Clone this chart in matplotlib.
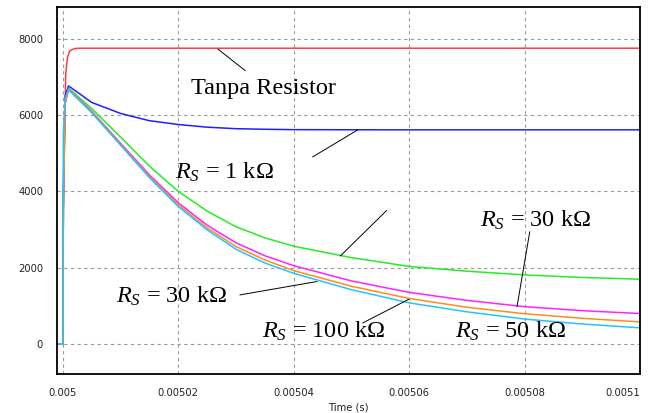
import matplotlib
matplotlib.use("Agg")
import matplotlib.pyplot as plt
import numpy as np

plt.rcParams['mathtext.fontset'] = 'custom'
plt.rcParams['mathtext.rm'] = 'Liberation Serif'
plt.rcParams['mathtext.it'] = 'Liberation Serif:italic'

# ---- data (time offsets in microseconds from 0.005 s) ----
t_us = [-1, 0, 0.1, 0.4, 1, 5, 10, 15, 20, 25, 30, 35, 40, 50, 60, 70, 80, 90, 100]
blue_vals = [0, 0, 4000, 6500, 6760, 6330, 6040, 5850, 5750, 5680, 5640, 5625, 5615, 5612, 5610, 5610, 5610, 5610, 5610]
green_vals = [0, 0, 3500, 6300, 6700, 6170, 5420, 4660, 4000, 3480, 3070, 2780, 2560, 2260, 2030, 1905, 1808, 1740, 1695]
magenta_vals = [0, 0, 3500, 6300, 6680, 6100, 5260, 4430, 3700, 3110, 2650, 2310, 2050, 1650, 1350, 1140, 975, 870, 795]
orange_vals = [0, 0, 3500, 6300, 6670, 6080, 5230, 4390, 3650, 3040, 2550, 2200, 1920, 1510, 1190, 960, 790, 670, 575]
cyan_vals = [0, 0, 5500, 6450, 6660, 6060, 5210, 4360, 3600, 2990, 2480, 2120, 1850, 1420, 1075, 840, 650, 520, 420]

red_t_us = [-1, 0, 0.1, 0.3, 0.4, 0.5, 0.8, 1.2, 2, 3, 100]
red_vals = [0, 0, 3600, 5700, 6000, 7050, 7500, 7680, 7740, 7750, 7750]

x_ticks = [0.005, 0.00502, 0.00504, 0.00506, 0.00508, 0.0051]
x_tick_labels = ['0.005', '0.00502', '0.00504', '0.00506', '0.00508', '0.0051']
y_ticks = [0, 2000, 4000, 6000, 8000]
y_tick_labels = ['0', '2000', '4000', '6000', '8000']

T0 = 0.005
def to_s(us):
    return [T0 + u * 1e-6 for u in us]

fig = plt.figure(figsize=(6.5, 4.13), dpi=100)
ax = fig.add_axes([57/650, 39/413, (640-57)/650, (374-7)/413])

lw = 1.1
ax.plot(to_s(red_t_us), red_vals, color='#ff3c3c', lw=lw)
ax.plot(to_s(t_us), blue_vals, color='#1f1fff', lw=lw)
ax.plot(to_s(t_us), green_vals, color='#22ee22', lw=lw)
ax.plot(to_s(t_us), magenta_vals, color='#ff22ff', lw=lw)
ax.plot(to_s(t_us), orange_vals, color='#ff8c1e', lw=lw)
ax.plot(to_s(t_us), cyan_vals, color='#22c4ff', lw=lw)

ax.set_xlim(0.004999, 0.0051)
ax.set_ylim(-790, 8830)
ax.set_xticks(x_ticks)
ax.set_xticklabels(x_tick_labels)
ax.set_yticks(y_ticks)
ax.set_yticklabels(y_tick_labels)
ax.tick_params(axis='both', length=0, labelsize=7.2, labelcolor='#222222')
ax.tick_params(axis='y', pad=10)
ax.tick_params(axis='x', pad=10)
xl = ax.get_xticklabels()
xl[-1].set_horizontalalignment('right')
ax.grid(True, color='#9a9a9a', linestyle=(0, (3, 3)), lw=0.8)
for s in ax.spines.values():
    s.set_linewidth(1.3)
    s.set_color('black')
ax.set_xlabel('Time (s)', fontsize=7.2, color='#222222', labelpad=3)

tfont = dict(family='Liberation Serif', fontsize=17.5, color='black')

def annot(text, x_us, y, **kw):
    ax.text(T0 + x_us * 1e-6, y, text, ha='left', va='baseline', **tfont, **kw)

def leader(x1, y1, x2, y2):
    ax.plot([T0 + x1 * 1e-6, T0 + x2 * 1e-6], [y1, y2], color='black', lw=0.7)

annot('Tanpa Resistor', 22.3, 6553)
leader(26.9, 7724, 31.6, 7163)

annot(r'$R_S$ = 1 kΩ', 19.4, 4317)
leader(43.3, 4901, 51.1, 5609)

leader(56.1, 3494, 48.1, 2306)

annot(r'$R_S$ = 30 kΩ', 72.2, 3075)
leader(80.9, 2936, 78.7, 983)

annot(r'$R_S$ = 30 kΩ', 9.2, 1066)
leader(30.7, 1284, 44.0, 1633)

annot(r'$R_S$ = 100 kΩ', 34.5, 157)
leader(52.0, 550, 59.9, 1166)

annot(r'$R_S$ = 50 kΩ', 67.9, 157)

fig.savefig('out.png', dpi=100)
